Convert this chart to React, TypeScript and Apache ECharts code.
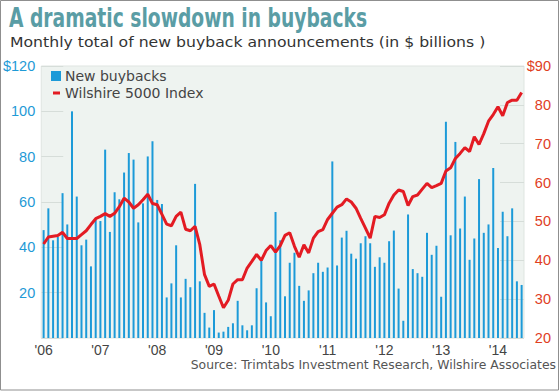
import React, { useEffect, useRef } from "react";
import * as echarts from "echarts";

const years = ["06", "07", "08", "09", "10", "11", "12", "13", "14"];
const months = ["01", "02", "03", "04", "05", "06", "07", "08", "09", "10", "11", "12"];

const buybacks = [
  // 2006
  47.6, 57.2, 43.1, 44.6, 63.9, 50.1, 100, 62.4, 40.9, 43.4, 31.6, 52.3,
  // 2007
  51.6, 83.1, 46.8, 64.3, 61.2, 73, 81.6, 78.7, 51, 59.4, 80.1, 86.8,
  // 2008
  60.9, 59.1, 17.9, 24.1, 40.9, 17.9, 26.1, 22.4, 68, 25, 11.1, 4.6,
  // 2009
  12.3, 2.4, 2.8, 4.9, 6.5, 16.4, 5.6, 3.4, 5.6, 21.9, 34.2, 15.7,
  // 2010
  9.6, 55.6, 43.1, 18.4, 33.2, 37.6, 23, 16.4, 21, 28.6, 33.2, 29.2,
  // 2011
  31.1, 77.9, 32, 44.3, 47.3, 37.2, 35, 41.8, 44.9, 41.8, 31.4, 35.6,
  // 2012
  33.2, 42.7, 47.4, 21.8, 7.6, 54.5, 30.4, 28.6, 27, 46.4, 36.7, 40.7,
  // 2013
  18.2, 95.4, 45.3, 86.5, 48.3, 62.4, 34.5, 43.9, 70.1, 46.4, 50.1, 75,
  // 2014
  39.7, 55.7, 44.9, 57.2, 25, 23.4,
];

const wilshire = [
  // 2006
  44.2, 46, 46.2, 46.4, 47.2, 45.6, 45.6, 45.6, 46.6, 47.6, 49.2, 50.7,
  // 2007
  51.3, 52, 51.3, 52.1, 53.8, 56, 55, 53.4, 54.3, 55.6, 57, 54.6,
  // 2008
  54.3, 51.8, 49.3, 48.9, 51.3, 52.4, 48, 47.6, 48.7, 44, 36.3, 33.3,
  // 2009
  33.9, 30.8, 27.8, 29.7, 33.9, 35, 35, 38, 39.7, 41.5, 40, 42.5,
  // 2010
  43.8, 42.1, 43.8, 46.4, 47.1, 43.6, 40.8, 44, 41.9, 45.7, 47.4, 47.9,
  // 2011
  50.5, 52.1, 53.7, 54.3, 55.8, 55, 53.4, 50.8, 48.3, 45.7, 51.3, 51,
  // 2012
  51.7, 54.7, 56.8, 58.1, 57.7, 54.1, 56.4, 56.8, 58.3, 59.8, 58.7, 59.2,
  // 2013
  59.8, 63, 63.8, 66.2, 67.5, 69, 68, 71.8, 69.8, 72.6, 75.8, 77.5,
  // 2014
  79.5, 77.2, 80.6, 81.2, 81.2, 83.2,
];

const categories: string[] = [];
for (const y of years) {
  for (const m of months) {
    if (categories.length < buybacks.length) categories.push(`20${y}-${m}`);
  }
}

const titleText = "A dramatic slowdown in buybacks";
const subtitleText = "Monthly total of new buyback announcements (in $ billions )";
const sourceText = "Source: Trimtabs Investment Research, Wilshire Associates";
const barName = "New buybacks";
const lineName = "Wilshire 5000 Index";

export default function App() {
  const ref = useRef<HTMLDivElement>(null);

  useEffect(() => {
    document.body.style.margin = "0";
    if (!ref.current) return;
    const chart = echarts.init(ref.current, null, { renderer: "svg" });
    const axisFont = "'Liberation Sans', Arial, sans-serif";
    const option: any = {
      animation: false,
      backgroundColor: "#ffffff",
      title: [
        {
          text: sourceText,
          right: 4,
          top: 358,
          padding: 0,
          textStyle: {
            fontFamily: "'DejaVu Sans', sans-serif",
            fontWeight: "normal",
            fontSize: 12.4,
            color: "#555555",
          },
        },
      ],
      graphic: [
        {
          type: "rect",
          shape: { x: 0.5, y: 0.5, width: 558, height: 389.5 },
          style: { fill: "none", stroke: "#8f8f8f", lineWidth: 1 },
          silent: true,
        },
        {
          type: "text",
          x: 9,
          y: 5,
          scaleX: 0.8,
          silent: true,
          style: {
            text: titleText,
            font: "bold 26px 'DejaVu Sans Condensed', 'DejaVu Sans', sans-serif",
            fill: "#5a9da5",
            verticalAlign: "top",
            align: "left",
          },
        },
        {
          type: "text",
          x: 10,
          y: 35,
          scaleX: 1.12,
          silent: true,
          style: {
            text: subtitleText,
            font: "14px 'DejaVu Sans', sans-serif",
            fill: "#333333",
            verticalAlign: "top",
            align: "left",
          },
        },
      ],
      legend: [
        {
          data: [{ name: barName, icon: "rect" }],
          left: 51,
          top: 69,
          padding: 0,
          itemWidth: 10,
          itemHeight: 10,
          textStyle: {
            fontFamily: "'DejaVu Sans', sans-serif",
            fontSize: 14,
            color: "#444444",
            padding: [0, 0, 0, -1],
          },
        },
        {
          data: [{ name: lineName, icon: "rect" }],
          left: 53,
          top: 86,
          padding: 0,
          itemWidth: 7,
          itemHeight: 3,
          textStyle: {
            fontFamily: "'DejaVu Sans', sans-serif",
            fontSize: 14,
            color: "#444444",
          },
        },
      ],
      grid: {
        left: 40,
        right: 36,
        top: 66,
        bottom: 54,
        show: true,
        backgroundColor: "#eef3f0",
        borderColor: "#dfe5e1",
        borderWidth: 1,
      },
      xAxis: {
        type: "category",
        data: categories,
        boundaryGap: true,
        axisLine: { show: false },
        axisTick: { show: false },
        axisLabel: {
          interval: (idx: number) => idx % 12 === 0,
          formatter: (v: string) => "'" + v.slice(2, 4),
          fontFamily: axisFont,
          fontSize: 14,
          color: "#444444",
          margin: 5,
        },
      },
      yAxis: [
        {
          type: "value",
          min: 0,
          max: 120,
          interval: 20,
          position: "left",
          axisLine: { show: false },
          splitLine: { show: false },
          axisTick: {
            show: true,
            inside: true,
            length: 22,
            lineStyle: { color: "#d6ddd9", width: 1 },
          },
          axisLabel: {
            formatter: (v: number) => (v === 0 ? "" : v === 120 ? "$120" : String(v)),
            fontFamily: axisFont,
            fontSize: 14.5,
            color: "#1f9ad6",
            margin: 6,
          },
        },
        {
          type: "value",
          min: 20,
          max: 90,
          interval: 10,
          position: "right",
          axisLine: { show: false },
          splitLine: { show: false },
          axisTick: {
            show: true,
            inside: true,
            length: 24,
            lineStyle: { color: "#d6ddd9", width: 1 },
          },
          axisLabel: {
            formatter: (v: number) => (v === 90 ? "$90" : String(v)),
            fontFamily: axisFont,
            fontSize: 14.5,
            color: "#e0401f",
            align: "right",
            margin: 27,
          },
        },
      ],
      series: [
        {
          name: barName,
          type: "bar",
          data: buybacks,
          barWidth: 2,
          itemStyle: { color: "#1c9ad8" },
          yAxisIndex: 0,
          z: 2,
        },
        {
          name: lineName,
          type: "line",
          data: wilshire,
          yAxisIndex: 1,
          symbol: "none",
          lineStyle: { color: "#e31b23", width: 3 },
          itemStyle: { color: "#e31b23" },
          z: 3,
        },
      ],
    };
    chart.setOption(option);
    return () => chart.dispose();
  }, []);

  return <div ref={ref} style={{ width: 560, height: 392 }} />;
}
